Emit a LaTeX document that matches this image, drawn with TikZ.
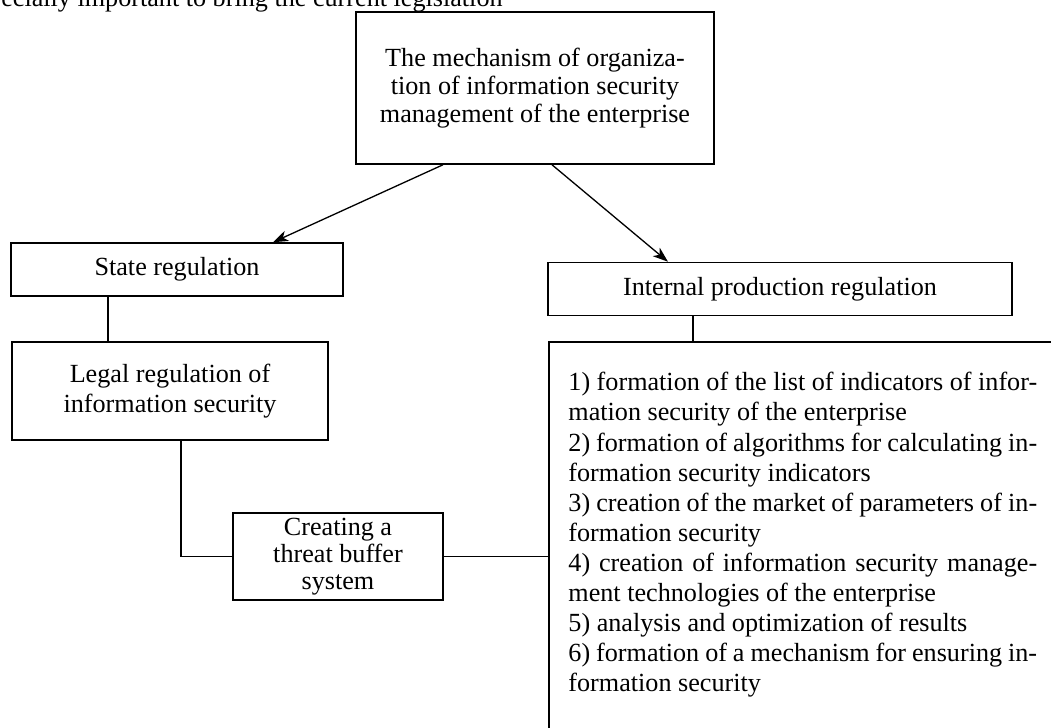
\documentclass[tikz,border=0pt]{standalone}
\usepackage{fontspec}
\setmainfont{Liberation Serif}
\usetikzlibrary{positioning,arrows.meta}

\def\px{0.4587pt}

\begin{document}
\begin{tikzpicture}[x=\px,y=-\px,
		every node/.style={font=\fontsize{12}{13.8}\selectfont},
		box/.style={draw,line width=0.7pt,inner sep=0pt,align=center},
		link/.style={line width=0.6pt},
		pointer/.style={line width=0.6pt,-{Stealth[length=7pt,width=5pt,inset=2pt]}}
	]
	\clip (0,0) rectangle (1051,727);

	% Cut-off line of the page above
	\node[anchor=base east,inner sep=0pt] (intro) at (503,6) {especially important to bring the current legislation};

	% Top of the scheme
	\node[box,font=\fontsize{12}{13}\selectfont,minimum width=358*\px,minimum height=152*\px] (mech) at (535,88)
		{The mechanism of organiza-\\tion of information security\\management of the enterprise};

	% Two kinds of regulation
	\node[box,minimum width=332*\px,minimum height=53*\px] (state) at (177,269.5) {State regulation};
	\node[box,minimum width=464*\px,minimum height=53*\px] (internal) at (780,289) {Internal production regulation};

	% State side
	\node[box,minimum width=316*\px,minimum height=98*\px] (legal) at (170,391) {Legal regulation of\\information security};
	\node[box,font=\fontsize{12}{12.4}\selectfont,minimum width=210*\px,minimum height=87*\px] (buffer) at (338,556.5)
		{Creating a\\threat buffer\\system};

	% Enterprise side
	\node[draw,line width=0.7pt,anchor=north west,minimum width=520*\px,minimum height=420*\px] (tasks) at (548,341) {};
	\node[anchor=north west,inner sep=0pt,text width=215pt,align=justify] (tasklist) at (568,372)
		{1) formation of the list of indicators of infor-\linebreak mation security of the enterprise\\
		2) formation of algorithms for calculating in-\linebreak formation security indicators\\
		3) creation of the market of parameters of in-\linebreak formation security\\
		4) creation of information security manage-\linebreak ment technologies of the enterprise\\
		5) analysis and optimization of results\\
		6) formation of a mechanism for ensuring in-\linebreak formation security};

	% Connectors
	\draw[pointer] ([xshift=-92*\px]mech.south) -- ([xshift=96*\px]state.north);
	\draw[pointer] ([xshift=17*\px]mech.south) -- ([xshift=-112*\px]internal.north);
	\draw[link] ([xshift=-69*\px]state.south) coordinate (s1) -- (s1 |- legal.north);
	\draw[link] ([xshift=11*\px]legal.south) |- (buffer.west);
	\draw[link] (buffer.east) -- (buffer.east -| tasks.west);
	\draw[link] ([xshift=-87*\px]internal.south) coordinate (i1) -- (i1 |- tasks.north);

\end{tikzpicture}
\end{document}
